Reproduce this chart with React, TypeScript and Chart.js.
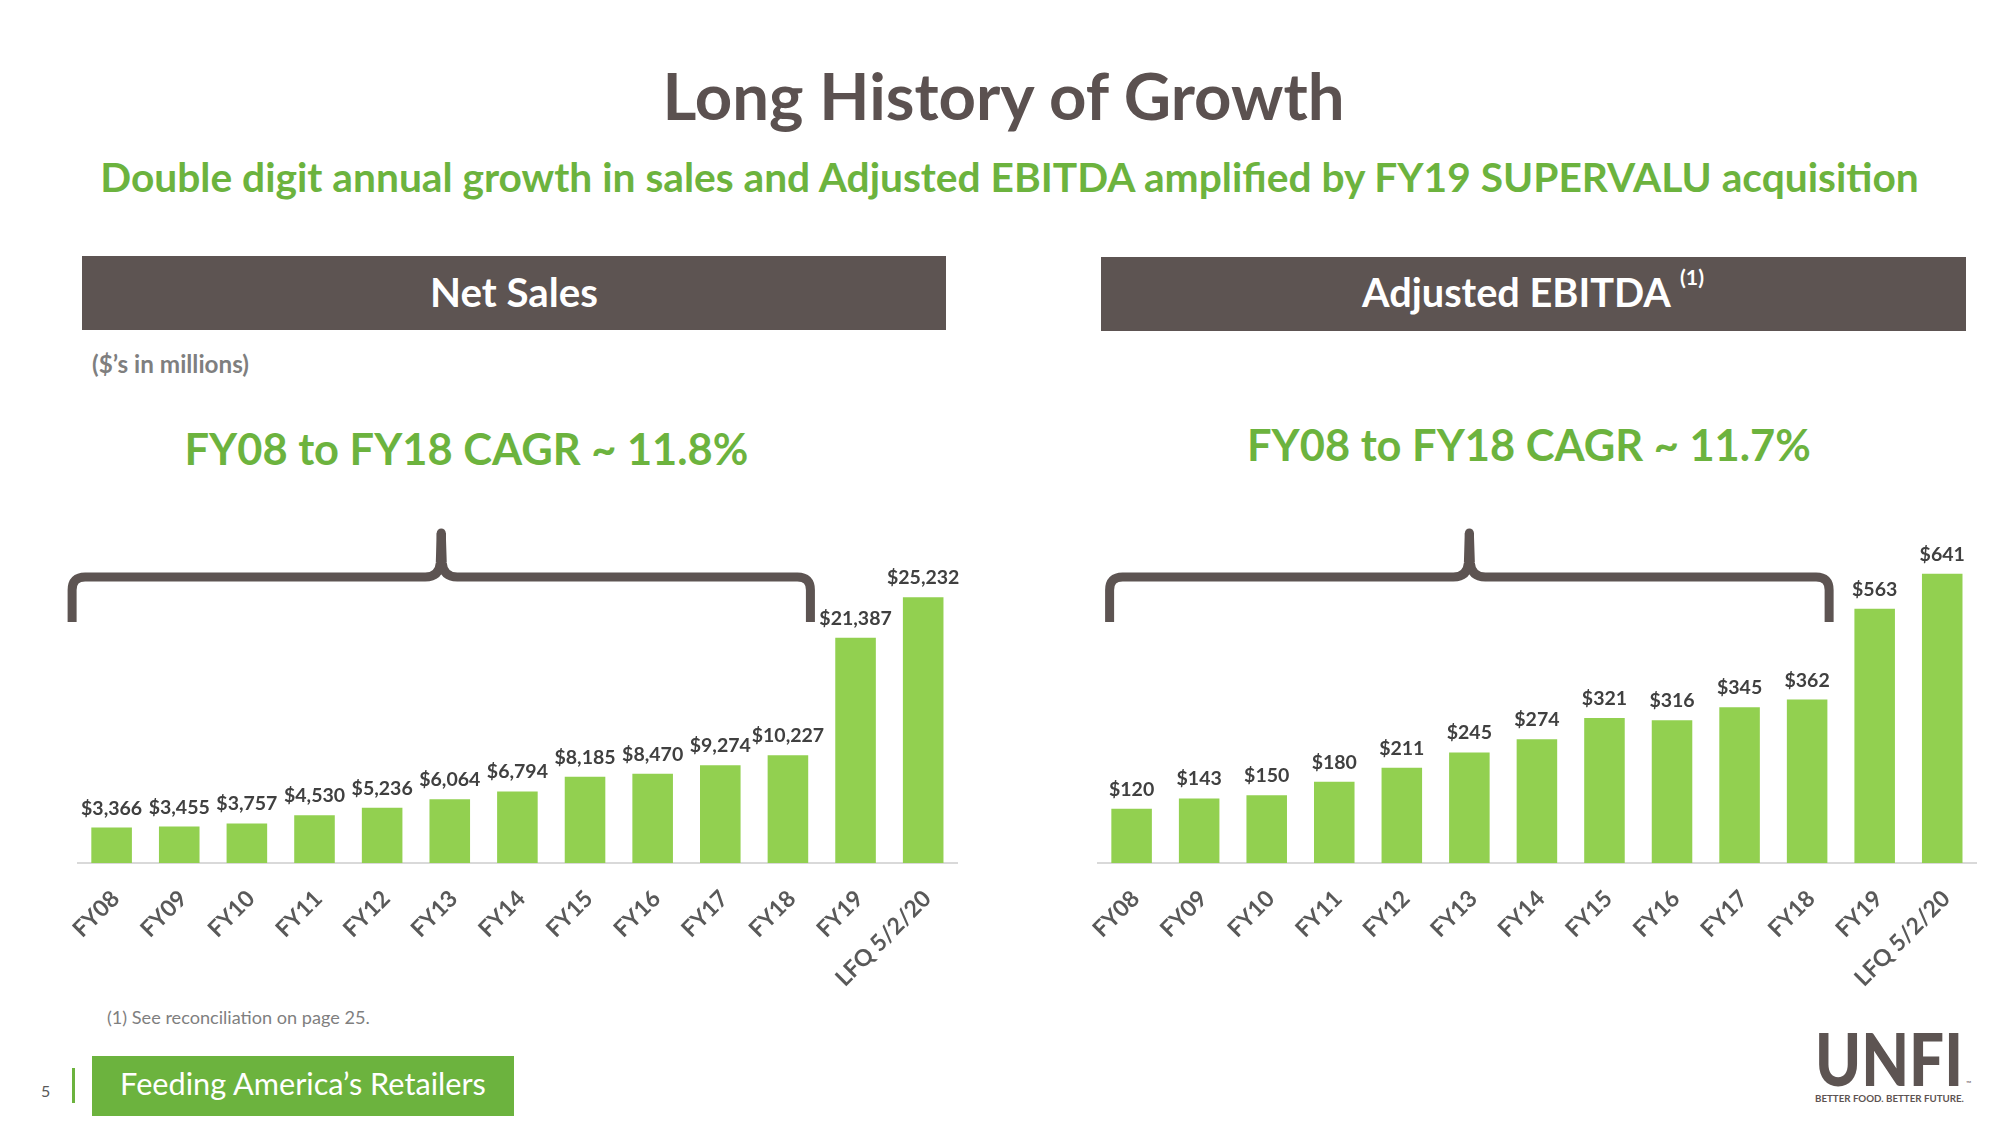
import React, { useEffect, useRef } from "react";
import { Chart, registerables } from "chart.js";

Chart.register(...registerables);

// ---- data ----
const categories = ["FY08", "FY09", "FY10", "FY11", "FY12", "FY13", "FY14", "FY15", "FY16", "FY17", "FY18", "FY19", "LFQ 5/2/20"];
const netSales = [3366, 3455, 3757, 4530, 5236, 6064, 6794, 8185, 8470, 9274, 10227, 21387, 25232];
const adjustedEbitda = [120, 143, 150, 180, 211, 245, 274, 321, 316, 345, 362, 563, 641];
const netSalesAxisMax = 30000;
const ebitdaAxisMax = 700;
const braceStart = "FY08";
const braceEnd = "FY18";

const FONT = "Lato";
const BROWN = "#5d5452";
const GREEN = "#6cb33e";
const BAR = "#92d050";

let mctx: CanvasRenderingContext2D | null = null;
function fitSize(text: string, weight: number, width: number, family = FONT) {
  if (!mctx) mctx = document.createElement("canvas").getContext("2d");
  if (!mctx) return 20;
  mctx.font = `${weight} 100px ${family}`;
  const w = mctx.measureText(text).width;
  return (100 * width) / w;
}

const barLabelPlugin = {
  id: "barLabels",
  afterDatasetsDraw(chart: any) {
    const ctx = chart.ctx;
    const meta = chart.getDatasetMeta(0);
    const data = chart.data.datasets[0].data as number[];
    ctx.save();
    ctx.font = `700 19.5px ${FONT}`;
    ctx.fillStyle = "#404040";
    ctx.textAlign = "center";
    ctx.textBaseline = "alphabetic";
    meta.data.forEach((bar: any, i: number) => {
      ctx.fillText("$" + data[i].toLocaleString("en-US"), bar.x, bar.y - 13);
    });
    ctx.restore();
  },
};

const bracePlugin = {
  id: "brace",
  afterDraw(chart: any, _args: any, opts: any) {
    const xs = chart.scales.x;
    const labels = chart.data.labels as string[];
    const i0 = labels.indexOf(braceStart);
    const i1 = labels.indexOf(braceEnd);
    const xL = xs.getPixelForValue(i0) - opts.extLeft;
    const xR = xs.getPixelForValue(i1) + opts.extRight;
    const xM = (xL + xR) / 2;
    const top = chart.chartArea.top;
    const yH = top + 30;
    const yEnd = top + 75;
    const yPeak = top - 18;
    const r = 13;
    const ctx = chart.ctx;
    ctx.save();
    ctx.strokeStyle = BROWN;
    ctx.lineWidth = 9;
    ctx.lineCap = "butt";
    ctx.lineJoin = "round";
    ctx.beginPath();
    ctx.moveTo(xL, yEnd);
    ctx.lineTo(xL, yH + r);
    ctx.quadraticCurveTo(xL, yH, xL + r, yH);
    ctx.lineTo(xM - 16, yH);
    ctx.quadraticCurveTo(xM - 2, yH, xM - 1, yH - 14);
    ctx.lineTo(xM, yPeak + 4);
    ctx.stroke();
    ctx.beginPath();
    ctx.moveTo(xR, yEnd);
    ctx.lineTo(xR, yH + r);
    ctx.quadraticCurveTo(xR, yH, xR - r, yH);
    ctx.lineTo(xM + 16, yH);
    ctx.quadraticCurveTo(xM + 2, yH, xM + 1, yH - 14);
    ctx.lineTo(xM, yPeak + 4);
    ctx.stroke();
    ctx.lineCap = "round";
    ctx.beginPath();
    ctx.moveTo(xM, yH - 10);
    ctx.lineTo(xM, yPeak + 4);
    ctx.stroke();
    ctx.restore();
  },
};

function BarChart(props: { values: number[]; max: number; left: number; width: number; extLeft: number; extRight: number }) {
  const ref = useRef<HTMLCanvasElement>(null);
  useEffect(() => {
    if (!ref.current) return;
    const chart = new Chart(ref.current, {
      type: "bar",
      data: {
        labels: categories,
        datasets: [
          {
            data: props.values,
            backgroundColor: BAR,
            barPercentage: 0.6,
            categoryPercentage: 1,
          },
        ],
      },
      options: {
        animation: false,
        responsive: false,
        maintainAspectRatio: false,
        layout: { padding: { left: 26, right: 24, top: 47, bottom: 0 } },
        plugins: {
          legend: { display: false },
          tooltip: { enabled: false },
          brace: { extLeft: props.extLeft, extRight: props.extRight },
        } as any,
        scales: {
          x: {
            grid: { display: false, drawTicks: false },
            border: { display: true, color: "#d9d9d9", width: 2 },
            ticks: {
              color: "#595959",
              font: { family: FONT, weight: "bold", size: 23 },
              minRotation: 45,
              maxRotation: 45,
              autoSkip: false,
              padding: 22,
              labelOffset: 4,
            },
            afterFit: (s: any) => {
              s.height = 150;
            },
          },
          y: { display: false, min: 0, max: props.max },
        },
      },
      plugins: [barLabelPlugin, bracePlugin],
    });
    return () => chart.destroy();
  }, []);
  return (
    <canvas
      ref={ref}
      width={props.width}
      height={513}
      style={{ position: "absolute", left: props.left, top: 500, width: props.width, height: 513 }}
    />
  );
}

function T(p: { x: number; y: number; text: string; w: number; weight?: number; fill: string; anchor?: string }) {
  const weight = p.weight ?? 700;
  const size = fitSize(p.text, weight, p.w);
  return (
    <text x={p.x} y={p.y} fontFamily={FONT} fontWeight={weight} fontSize={size} fill={p.fill} textAnchor={p.anchor ?? "start"}>
      {p.text}
    </text>
  );
}

export default function App() {
  const titleText = "Long History of Growth";
  const subtitleText = "Double digit annual growth in sales and Adjusted EBITDA amplified by FY19 SUPERVALU acquisition";
  return (
    <div style={{ position: "absolute", left: 0, top: 0, width: 2000, height: 1125, background: "#fff", overflow: "hidden" }}>
      <svg width={2000} height={1125} style={{ position: "absolute", left: 0, top: 0 }}>
        <T x={1003.5} y={120} text={titleText} w={685} fill="#5b5150" anchor="middle" />
        <T x={1009.5} y={192} text={subtitleText} w={1823} fill={GREEN} anchor="middle" />
        <rect x={82} y={256} width={864} height={74} fill={BROWN} />
        <rect x={1101} y={257} width={865} height={74} fill={BROWN} />
        <T x={514} y={307} text="Net Sales" w={168} fill="#ffffff" anchor="middle" />
        <T x={1362} y={307} text="Adjusted EBITDA" w={309} fill="#ffffff" />
        <T x={1680} y={285} text="(1)" w={24} fill="#ffffff" />
        <T x={92} y={373} text="($’s in millions)" w={157} fill="#7f7f7f" />
        <T x={184.5} y={465} text="FY08 to FY18 CAGR ~ 11.8%" w={564} fill={GREEN} />
        <T x={1247} y={461} text="FY08 to FY18 CAGR ~ 11.7%" w={564} fill={GREEN} />
        <T x={107} y={1024} text="(1) See reconciliation on page 25." w={263} weight={400} fill="#7f7f7f" />
        <text x={41} y={1097} fontFamily={FONT} fontSize={16} fill="#595959">5</text>
        <rect x={72} y={1068} width={3} height={35} fill={GREEN} />
        <rect x={92} y={1056} width={422} height={60} fill={GREEN} />
        <T x={303} y={1095} text="Feeding America’s Retailers" w={367} weight={400} fill="#ffffff" anchor="middle" />
        <g transform="translate(1815 1086) scale(1 1.18)">
          <T x={0} y={0} text="UNFI" w={148} weight={900} fill={BROWN} />
        </g>
        <T x={1815} y={1102} text="BETTER FOOD. BETTER FUTURE." w={149} fill={BROWN} />
        <text x={1966} y={1086} fontFamily={FONT} fontSize={7} fill={BROWN}>™</text>
      </svg>
      <BarChart values={netSales} max={netSalesAxisMax} left={50} width={931} extLeft={39.5} extRight={22.5} />
      <BarChart values={adjustedEbitda} max={ebitdaAxisMax} left={1070} width={930} extLeft={22} extRight={22} />
    </div>
  );
}
